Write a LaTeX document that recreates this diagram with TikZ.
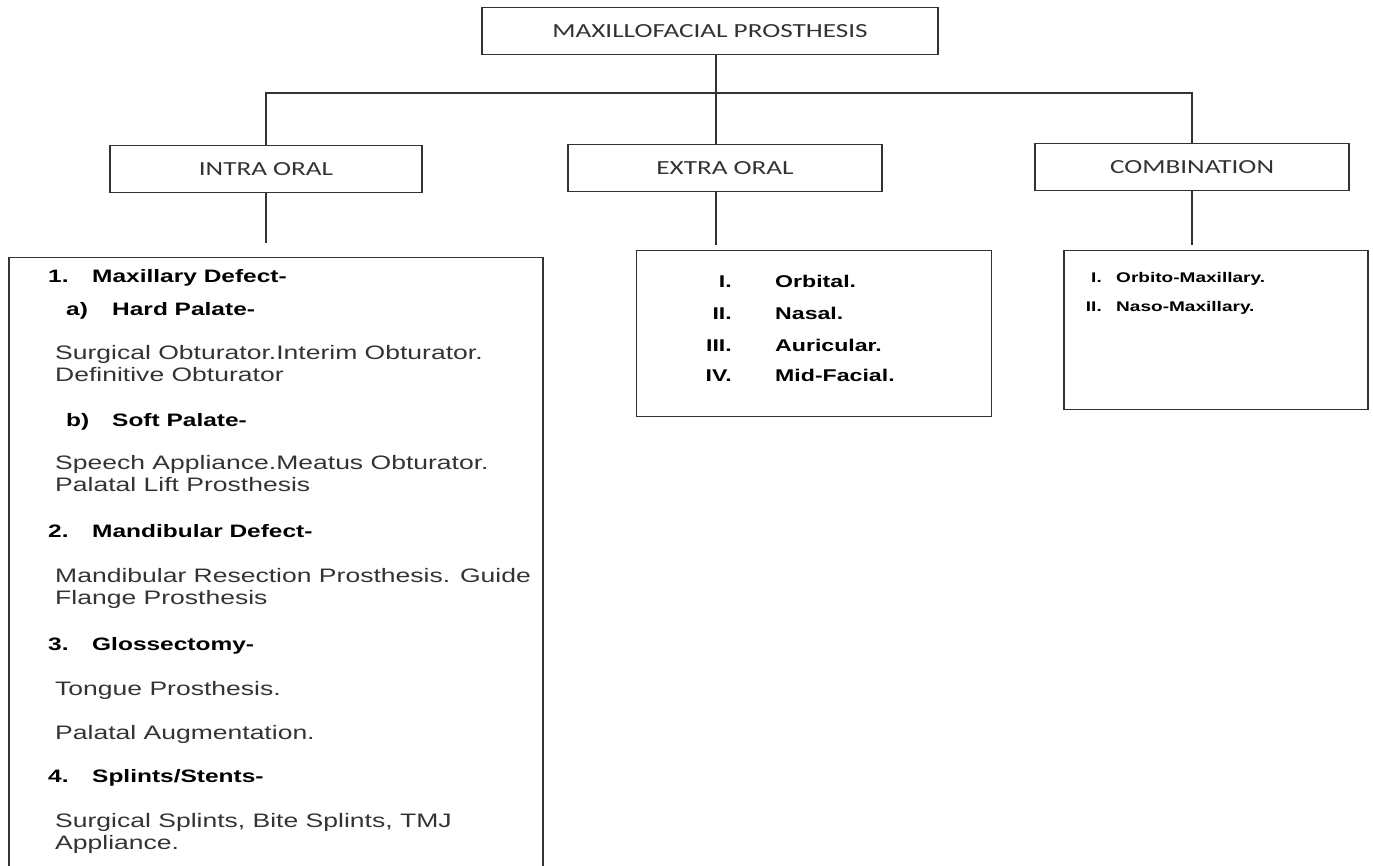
\documentclass[tikz,border=0pt]{standalone}
\usepackage{fontspec}
\setmainfont{Liberation Sans}[FakeStretch=1.36]
\newfontfamily\calfont{Carlito}[FakeStretch=1.36]

\begin{document}
\begin{tikzpicture}[
    x=1pt, y=-1pt,
    head/.style={draw=black!80, line width=1.3pt, minimum height=47pt, inner sep=0pt,
      font=\calfont\fontsize{20}{24}\selectfont, text=black!80},
    panel/.style={draw=black!80, line width=1.3pt, anchor=north, inner sep=0pt},
    link/.style={draw=black!80, line width=1.3pt},
    itm/.style={anchor=base west, inner sep=0pt, font=\fontsize{18}{22}\selectfont\bfseries},
    txt/.style={anchor=base west, inner sep=0pt, font=\fontsize{19.5}{22}\selectfont, text=black!80},
    xnum/.style={anchor=base east, inner sep=0pt, font=\fontsize{17}{20}\selectfont\bfseries},
    xitm/.style={anchor=base west, inner sep=0pt, font=\fontsize{17}{20}\selectfont\bfseries},
    cnum/.style={anchor=base east, inner sep=0pt, font=\fontsize{14}{17}\selectfont\bfseries},
    citm/.style={anchor=base west, inner sep=0pt, font=\fontsize{14}{17}\selectfont\bfseries},
  ]

  \useasboundingbox (0,0) rectangle (1373,865);

  % ---- riquadri principali --------------------------------------------------
  \node[head, minimum width=456pt] (mfp)   at (710,31)  {MAXILLOFACIAL PROSTHESIS};
  \node[head, minimum width=312pt] (intra) at (266,169) {INTRA ORAL};
  \node[head, minimum width=314pt] (extra) at (725,168) {EXTRA ORAL};
  \node[head, minimum width=314pt] (comb)  at (1192,167) {COMBINATION};

  % ---- riquadri di dettaglio ------------------------------------------------
  \node[panel, minimum width=534pt, minimum height=640pt] (intdet) at (276,257) {};
  \node[panel, minimum width=355pt, minimum height=166pt] (extdet) at (814,250) {};
  \node[panel, minimum width=304pt, minimum height=159pt] (cmbdet) at (1216,250) {};

  % ---- collegamenti ---------------------------------------------------------
  \coordinate (bus) at (716,93);
  \draw[link] (mfp.south -| bus) -- (extra.north -| bus);
  \draw[link] (intra.north) -- (intra.north |- bus) -- (comb.north |- bus) -- (comb.north);
  \draw[link, shorten >=14pt] (intra.south) -- (intra.south |- intdet.north);
  \draw[link, shorten >=5pt] (extra.south -| bus) -- (bus |- extdet.north);
  \draw[link, shorten >=5pt] (comb.south) -- (comb.south |- cmbdet.north);

  % ---- intra oral -----------------------------------------------------------
  \foreach \y/\n/\t in {282/1./Maxillary Defect-, 537/2./Mandibular Defect-,
                        650/3./Glossectomy-, 782/4./{Splints/Stents-}} {
    \node[itm] (num-\y) at (48,\y) {\n};
    \node[itm] (hd-\y)  at (92,\y) {\t};
  }
  \foreach \y/\n/\t in {315/a)/Hard Palate-, 426/b)/Soft Palate-} {
    \node[itm] (sub-\y) at (66,\y) {\n};
    \node[itm] (sh-\y)  at (112,\y) {\t};
  }
  \foreach \y/\t in {359/Surgical Obturator.Interim Obturator.,
                     381/Definitive Obturator,
                     469/Speech Appliance.Meatus Obturator.,
                     491/Palatal Lift Prosthesis,
                     582/Mandibular Resection Prosthesis. Guide,
                     604/Flange Prosthesis,
                     695/Tongue Prosthesis.,
                     739/Palatal Augmentation.,
                     827/{Surgical Splints, Bite Splints, TMJ},
                     849/Appliance.}
    \node[txt] (ln-\y) at (55,\y) {\t};

  % ---- extra oral -----------------------------------------------------------
  \foreach \y/\n/\t [count=\k] in {287/I./Orbital., 319/II./Nasal.,
                                   351/III./Auricular., 381/IV./Mid-Facial.} {
    \node[xnum] (xn\k) at (732,\y) {\n};
    \node[xitm] (xi\k) at (775,\y) {\t};
  }

  % ---- combination ----------------------------------------------------------
  \foreach \y/\n/\t [count=\k] in {282/I./Orbito-Maxillary., 311/II./Naso-Maxillary.} {
    \node[cnum] (cn\k) at (1102,\y) {\n};
    \node[citm] (ci\k) at (1116,\y) {\t};
  }

\end{tikzpicture}
\end{document}
